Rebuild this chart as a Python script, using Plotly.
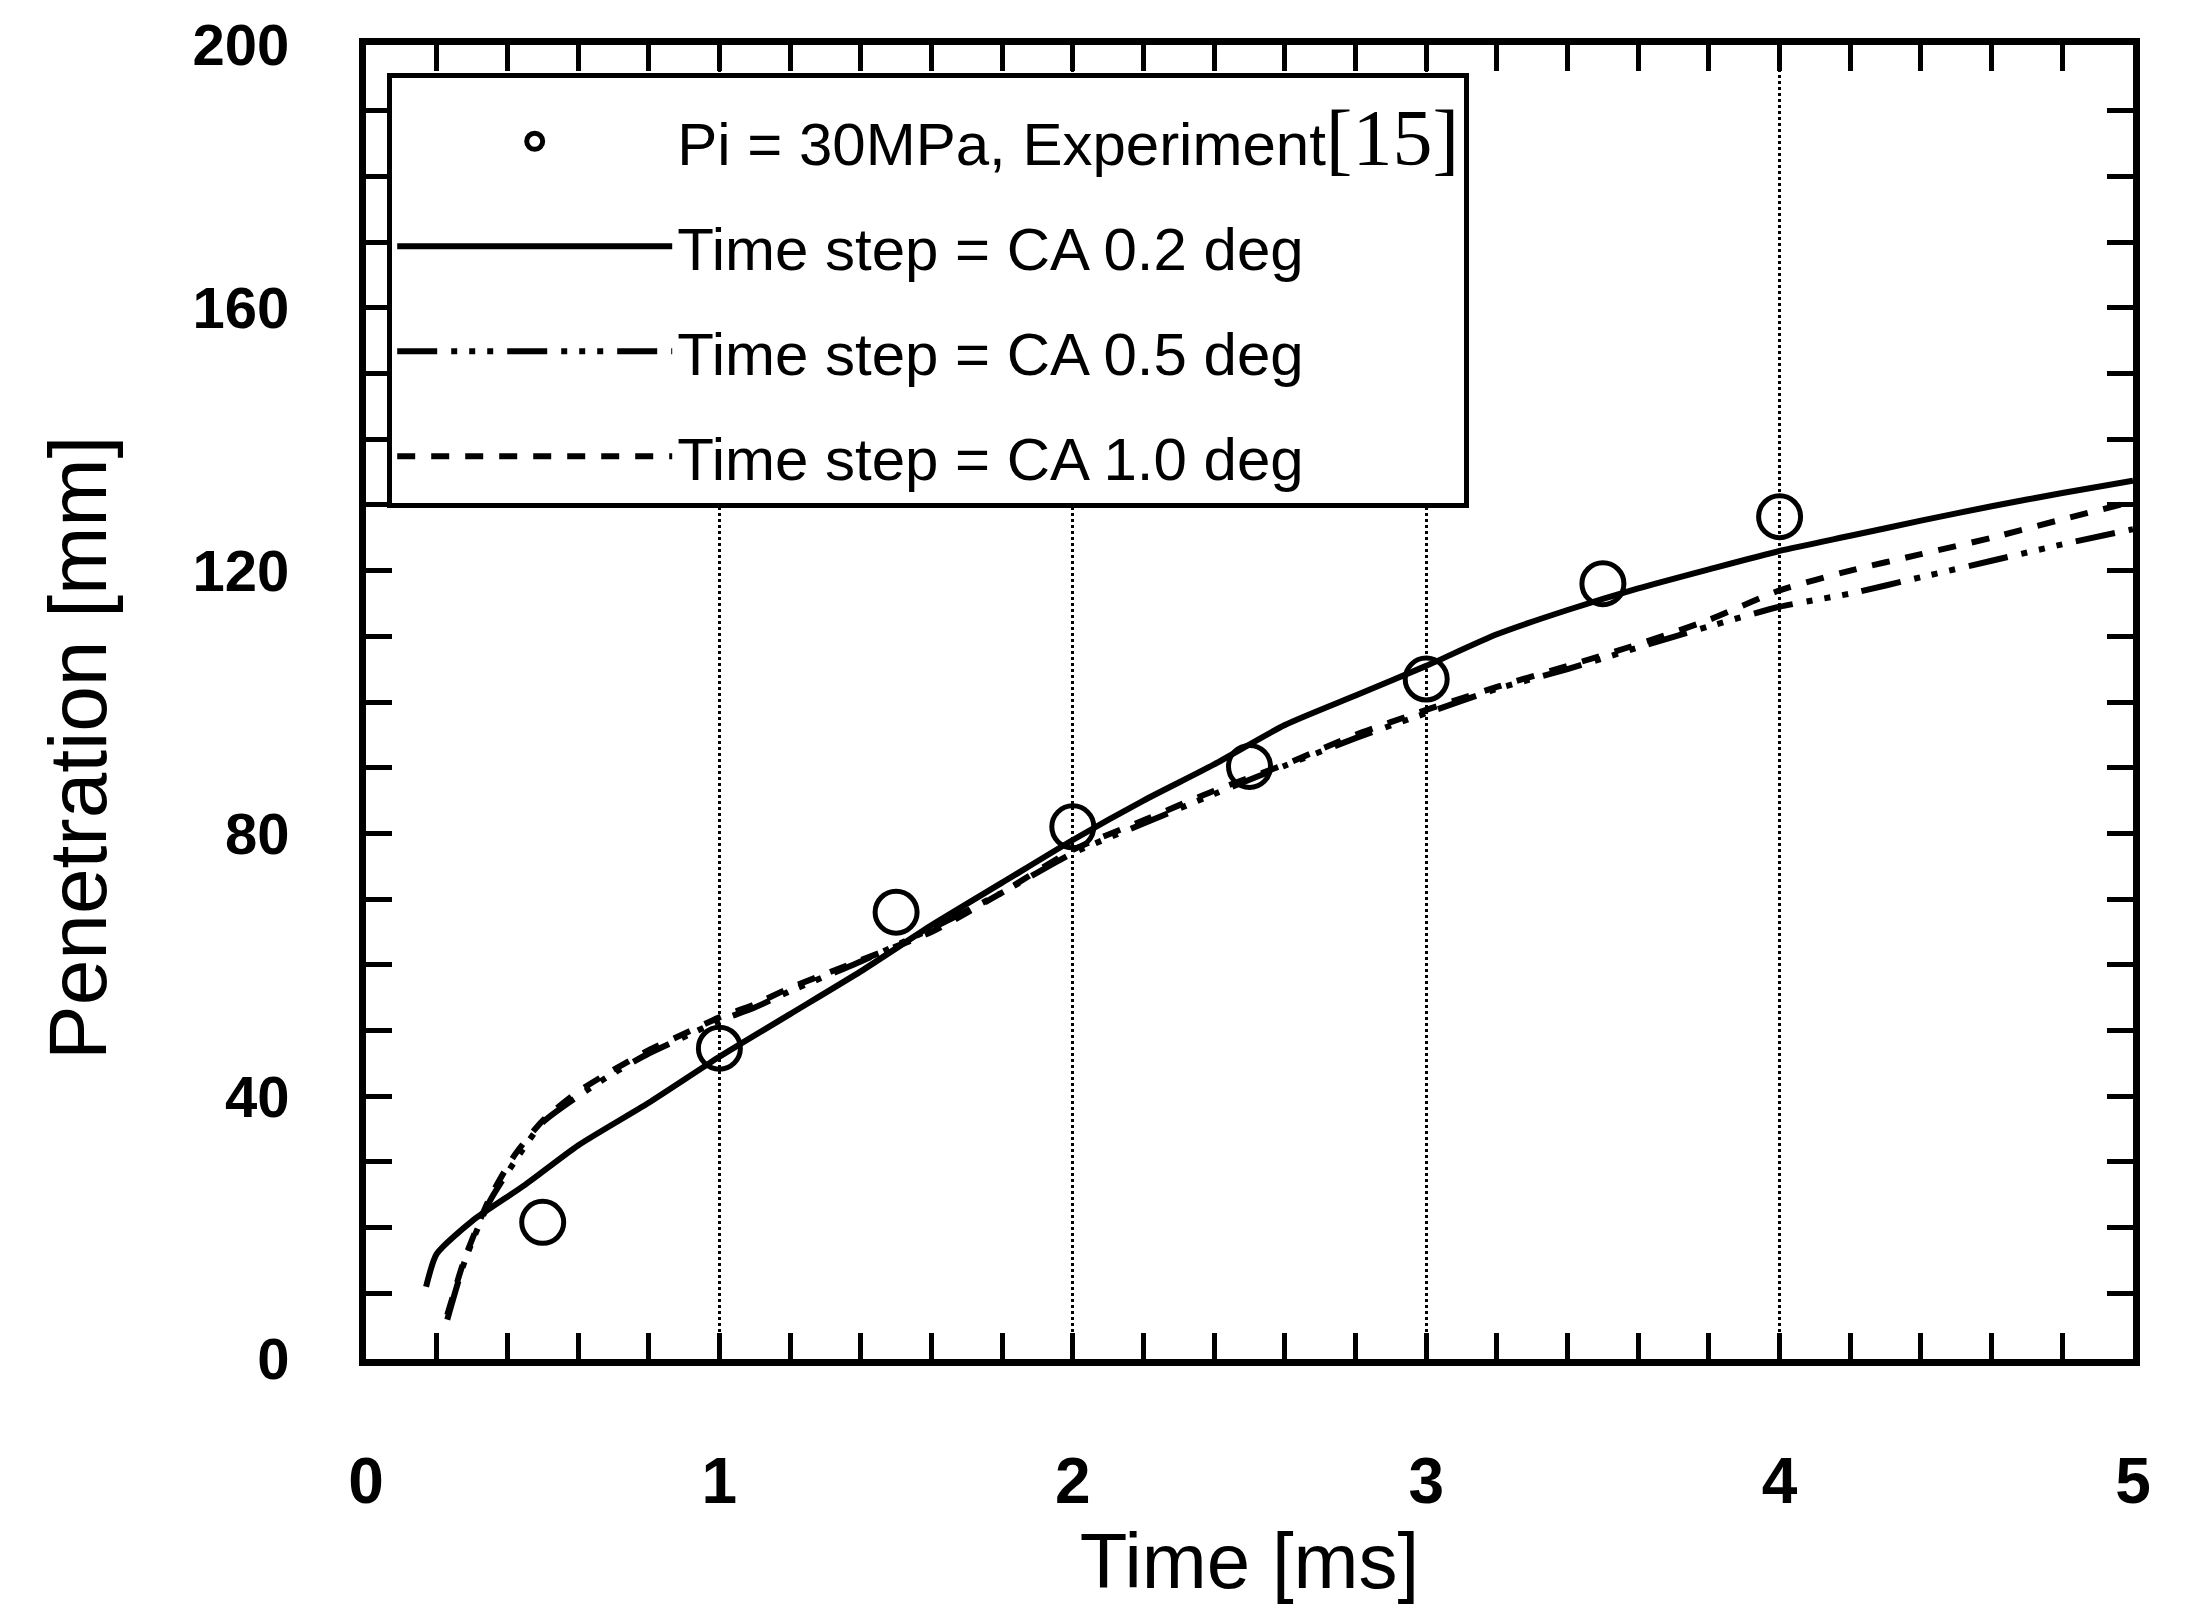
import plotly.graph_objects as go

# ---- data ----
exp_t = [0.5, 1.0, 1.5, 2.0, 2.5, 3.0, 3.5, 4.0]
exp_pen = [20.8, 47.3, 68.0, 81.0, 90.2, 103.5, 118.0, 128.2]

t_02 = [0.17, 0.2, 0.3, 0.45, 0.6, 0.8, 1.0, 1.2, 1.4, 1.6, 1.8, 2.0, 2.2, 2.4,
        2.6, 2.8, 3.0, 3.2, 3.4, 3.6, 3.8, 4.0, 4.2, 4.4, 4.6, 4.8, 5.0]
pen_02 = [11.0, 16.0, 21.0, 26.5, 32.5, 39.0, 46.0, 52.5, 59.0, 66.0, 72.5, 79.0, 85.0, 90.5,
          96.5, 101.0, 105.5, 110.3, 114.0, 117.3, 120.2, 123.0, 125.3, 127.6, 129.8, 131.8, 133.7]

t_05 = [0.23, 0.28, 0.35, 0.42, 0.5, 0.6, 0.7, 0.8, 0.9, 1.0, 1.1, 1.2, 1.4, 1.6, 1.8, 2.0,
        2.2, 2.4, 2.6, 2.8, 3.0, 3.2, 3.4, 3.6, 3.8, 4.0, 4.2, 4.4, 4.6, 4.8, 5.0]
pen_05 = [6.0, 15.0, 24.0, 30.0, 36.0, 40.0, 43.5, 46.5, 49.0, 51.5, 53.5, 56.0, 60.5, 65.5, 71.0, 77.0,
          81.5, 86.0, 90.3, 94.5, 98.3, 102.0, 105.0, 108.3, 111.5, 114.5, 116.5, 119.0, 121.5, 124.0, 126.3]

t_10 = [0.23, 0.28, 0.35, 0.42, 0.5, 0.6, 0.7, 0.8, 0.9, 1.0, 1.1, 1.2, 1.4, 1.6, 1.8, 2.0,
        2.2, 2.4, 2.6, 2.8, 3.0, 3.2, 3.4, 3.6, 3.8, 4.0, 4.2, 4.4, 4.6, 4.8, 5.0]
pen_10 = [6.7, 15.4, 24.5, 31.0, 36.3, 40.7, 44.0, 47.0, 49.5, 52.0, 54.0, 56.5, 60.7, 65.0, 71.0, 77.5,
          82.0, 86.5, 90.5, 95.0, 98.8, 102.3, 105.5, 108.8, 112.5, 117.0, 120.0, 122.5, 125.0, 127.8, 130.5]

x_ticks = [0, 1, 2, 3, 4, 5]
y_ticks = [0, 40, 80, 120, 160, 200]

names = [
    "Pi = 30MPa, Experiment<span style='font-family:Liberation Serif; font-size:80px'>[15]</span>",
    "Time step = CA 0.2 deg",
    "Time step = CA 0.5 deg",
    "Time step = CA 1.0 deg",
]

SANS = "Liberation Sans, Arial"

fig = go.Figure()
fig.add_trace(go.Scatter(
    x=exp_t, y=exp_pen, mode="markers", name=names[0], legendgroup="a",
    marker=dict(symbol="circle-open", size=42, color="black", line=dict(width=5, color="black")),
))
fig.add_trace(go.Scatter(
    x=t_02, y=pen_02, mode="lines", name=names[1], legendgroup="b",
    line=dict(color="black", width=6, shape="spline", smoothing=0.6),
))
fig.add_trace(go.Scatter(
    x=t_05, y=pen_05, mode="lines", name=names[2], legendgroup="c",
    line=dict(color="black", width=6, shape="spline", smoothing=0.6,
              dash="40px,14px,6px,12px,6px,12px,6px,14px"),
))
fig.add_trace(go.Scatter(
    x=t_10, y=pen_10, mode="lines", name=names[3], legendgroup="d",
    line=dict(color="black", width=6, shape="spline", smoothing=0.6, dash="18px,16px"),
))

fig.update_layout(
    width=2208, height=1624,
    margin=dict(l=366, r=75, t=42, b=265),
    paper_bgcolor="white", plot_bgcolor="white",
    font=dict(family=SANS, color="black", size=50),
    showlegend=True,
    legend=dict(
        x=0.012, y=0.979, xanchor="left", yanchor="top",
        bgcolor="white", bordercolor="black", borderwidth=5,
        font=dict(family=SANS, size=60, color="black"),
        itemwidth=275, tracegroupgap=24,
        traceorder="grouped",
        title=dict(text=" ", font=dict(size=14)),
    ),
    xaxis=dict(
        range=[0, 5], tickvals=x_ticks, ticktext=[str(v) for v in x_ticks],
        ticks="inside", ticklen=26, tickwidth=5, tickcolor="black",
        minor=dict(dtick=0.2, ticks="inside", ticklen=26, tickwidth=5, tickcolor="black", showgrid=False),
        showline=True, linewidth=7, linecolor="black", mirror="allticks",
        showgrid=True, gridcolor="black", gridwidth=3, griddash="dot",
        zeroline=False,
        tickfont=dict(family=SANS, size=64, color="black", weight="bold"),
        ticklabelstandoff=60,
        title=dict(text="Time [ms]", font=dict(family=SANS, size=78, color="black"), standoff=16),
    ),
    yaxis=dict(
        range=[0, 200], tickvals=y_ticks, ticktext=[str(v) for v in y_ticks],
        ticks="inside", ticklen=26, tickwidth=5, tickcolor="black",
        minor=dict(dtick=10, ticks="inside", ticklen=26, tickwidth=5, tickcolor="black", showgrid=False),
        showline=True, linewidth=7, linecolor="black", mirror="allticks",
        showgrid=False, zeroline=False,
        tickfont=dict(family=SANS, size=58, color="black", weight="bold"),
        ticklabelstandoff=58,
    ),
    annotations=[dict(
        text="Penetration [mm]", textangle=-90, showarrow=False,
        xref="paper", yref="paper", x=-0.163, y=0.465, xanchor="center", yanchor="middle",
        font=dict(family=SANS, size=82, color="black"),
    )],
)

fig.write_html("out.html")
